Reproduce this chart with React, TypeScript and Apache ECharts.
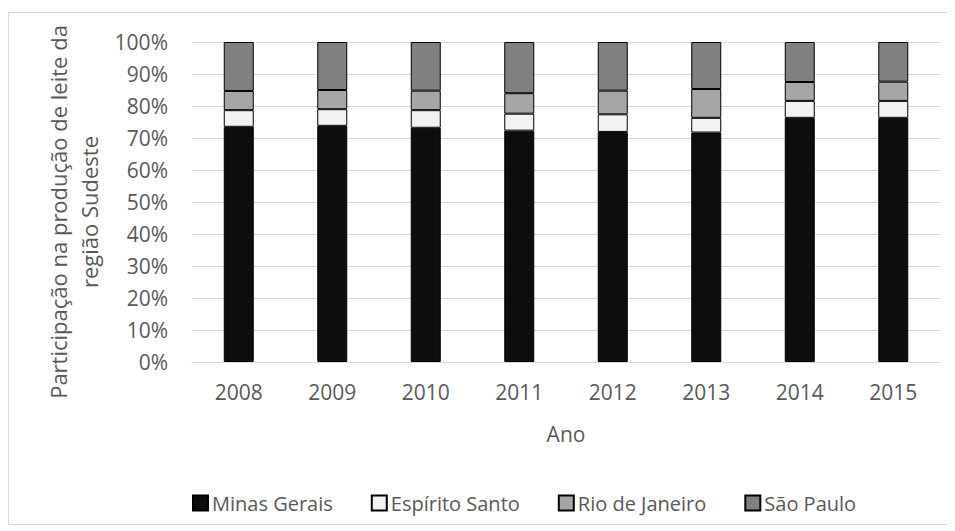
import React, { useEffect, useRef } from "react";
import * as echarts from "echarts";

const categories = ["2008", "2009", "2010", "2011", "2012", "2013", "2014", "2015"];
const minasGerais = [73.5, 73.8, 73.2, 72.3, 71.9, 71.7, 76.3, 76.3];
const espiritoSanto = [5.2, 5.2, 5.5, 5.3, 5.5, 4.6, 5.3, 5.3];
const rioDeJaneiro = [6.0, 6.0, 6.1, 6.4, 7.4, 9.0, 5.9, 6.0];
const saoPaulo = [15.3, 15.0, 15.2, 16.0, 15.2, 14.7, 12.5, 12.4];
const seriesNames = ["Minas Gerais", "Espírito Santo", "Rio de Janeiro", "São Paulo"];
const seriesColors = ["#0d0d0d", "#f2f2f2", "#a6a6a6", "#808080"];
const yTitleLines = ["Participação na produção de leite da", "região Sudeste"];

const FONT = "Open Sans";
const TEXT = "#595959";

export default function App() {
  const ref = useRef<HTMLDivElement>(null);
  useEffect(() => {
    if (!ref.current) return;
    const chart = echarts.init(ref.current, undefined, { renderer: "svg" });
    const data = [minasGerais, espiritoSanto, rioDeJaneiro, saoPaulo];
    chart.setOption({
      animation: false,
      textStyle: { fontFamily: FONT, color: TEXT },
      graphic: [
        {
          type: "rect",
          shape: { x: 8.5, y: 12.5, width: 941, height: 512 },
          style: { fill: "none", stroke: "#d9d9d9", lineWidth: 1 },
          silent: true,
        },
        ...yTitleLines.map((t, i) => ({
          type: "text",
          x: 58 + i * 31,
          y: 212,
          rotation: Math.PI / 2,
          silent: true,
          style: {
            text: t,
            fill: TEXT,
            font: `22px '${FONT}'`,
            align: "center",
            verticalAlign: "middle",
          },
        })),
      ],
      grid: { left: 192, right: 15, top: 42, bottom: 169 },
      legend: {
        top: 488,
        left: 187,
        itemWidth: 15,
        itemHeight: 15,
        itemGap: 38,
        icon: "rect",
        textStyle: { fontFamily: FONT, fontSize: 20, color: TEXT, padding: [0, 0, 0, -1] },
        data: seriesNames,
      },
      xAxis: {
        type: "category",
        data: categories,
        name: "Ano",
        nameLocation: "middle",
        nameGap: 61,
        nameTextStyle: { fontFamily: FONT, fontSize: 21, color: TEXT },
        axisLine: { lineStyle: { color: "#d9d9d9", width: 1 } },
        axisTick: { show: false },
        axisLabel: { fontFamily: FONT, fontSize: 21, color: TEXT, margin: 19 },
      },
      yAxis: {
        type: "value",
        min: 0,
        max: 100,
        interval: 10,
        axisLine: { show: false },
        axisTick: { show: false },
        axisLabel: { fontFamily: FONT, fontSize: 21, color: TEXT, margin: 24, formatter: "{value}%" },
        splitLine: { lineStyle: { color: "#d9d9d9", width: 1 } },
      },
      series: seriesNames.map((name, i) => ({
        name,
        type: "bar",
        stack: "total",
        barWidth: 30,
        data: data[i],
        itemStyle: { color: seriesColors[i], borderColor: "#000", borderWidth: 1 },
        emphasis: { disabled: true },
      })),
    });
    return () => chart.dispose();
  }, []);
  return <div ref={ref} style={{ width: 955, height: 531, marginLeft: -8, marginTop: -8 }} />;
}
